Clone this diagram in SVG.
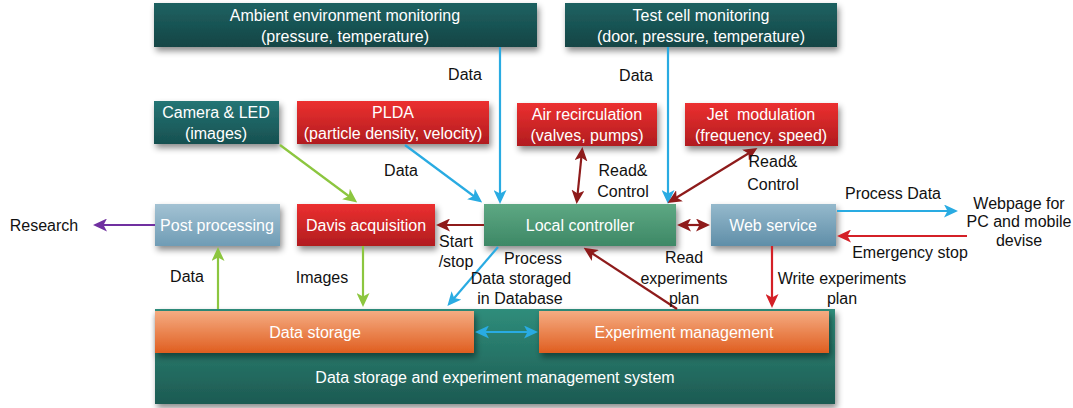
<svg xmlns="http://www.w3.org/2000/svg" width="1073" height="408" viewBox="0 0 1073 408">
<style>
text{font-family:"Liberation Sans",Arial,sans-serif;font-size:16px;text-anchor:middle;dominant-baseline:central}
.w{fill:#fff}
.k{fill:#111}
.box{filter:url(#sh)}
.c{fill:none;stroke-width:2.2}
.b{stroke:#29abe2}
.g{stroke:#8cc63f}
.dr{stroke:#8e1b1b}
.r{stroke:#d42027}
.p{stroke:#7030a0}
</style>
<defs>
<filter id="sh" x="-10%" y="-20%" width="125%" height="160%">
<feDropShadow dx="2" dy="4" stdDeviation="3" flood-color="#000" flood-opacity="0.45"/>
</filter>
<linearGradient id="gTeal" x1="0" y1="0" x2="0" y2="1"><stop offset="0" stop-color="#1f6262"/><stop offset="1" stop-color="#124545"/></linearGradient>
<linearGradient id="gCam" x1="0" y1="0" x2="0" y2="1"><stop offset="0" stop-color="#257575"/><stop offset="1" stop-color="#175050"/></linearGradient>
<linearGradient id="gRed" x1="0" y1="0" x2="0" y2="1"><stop offset="0" stop-color="#ec3030"/><stop offset="1" stop-color="#b11c1f"/></linearGradient>
<linearGradient id="gGreen" x1="0" y1="0" x2="0" y2="1"><stop offset="0" stop-color="#5ea883"/><stop offset="1" stop-color="#3d8866"/></linearGradient>
<linearGradient id="gSteel" x1="0" y1="0" x2="0" y2="1"><stop offset="0" stop-color="#95b9cc"/><stop offset="1" stop-color="#5f8ea8"/></linearGradient>
<linearGradient id="gPost" x1="0" y1="0" x2="0" y2="1"><stop offset="0" stop-color="#a3c2d3"/><stop offset="1" stop-color="#6f9cb5"/></linearGradient>
<linearGradient id="gOrange" x1="0" y1="0" x2="0" y2="1"><stop offset="0" stop-color="#f5ac82"/><stop offset="1" stop-color="#e05e20"/></linearGradient>
<linearGradient id="gSys" x1="0" y1="0" x2="0" y2="1"><stop offset="0" stop-color="#2f8d7b"/><stop offset="1" stop-color="#1d5a52"/></linearGradient>
<marker id="mb" viewBox="0 0 14 13" refX="10" refY="6.5" markerWidth="14" markerHeight="13" markerUnits="userSpaceOnUse" orient="auto-start-reverse"><path d="M0,0L14,6.5L0,13L3.5,6.5z" fill="#29abe2"/></marker>
<marker id="mg" viewBox="0 0 14 13" refX="10" refY="6.5" markerWidth="14" markerHeight="13" markerUnits="userSpaceOnUse" orient="auto-start-reverse"><path d="M0,0L14,6.5L0,13L3.5,6.5z" fill="#8cc63f"/></marker>
<marker id="mdr" viewBox="0 0 14 13" refX="10" refY="6.5" markerWidth="14" markerHeight="13" markerUnits="userSpaceOnUse" orient="auto-start-reverse"><path d="M0,0L14,6.5L0,13L3.5,6.5z" fill="#8e1b1b"/></marker>
<marker id="mr" viewBox="0 0 14 13" refX="10" refY="6.5" markerWidth="14" markerHeight="13" markerUnits="userSpaceOnUse" orient="auto-start-reverse"><path d="M0,0L14,6.5L0,13L3.5,6.5z" fill="#d42027"/></marker>
<marker id="mp" viewBox="0 0 14 13" refX="10" refY="6.5" markerWidth="14" markerHeight="13" markerUnits="userSpaceOnUse" orient="auto-start-reverse"><path d="M0,0L14,6.5L0,13L3.5,6.5z" fill="#7030a0"/></marker>
</defs>
<rect width="1073" height="408" fill="#fff"/>

<g id="system">
<rect class="box" x="155" y="309" width="680" height="95" fill="url(#gSys)"/>
<text class="w" x="495" y="377">Data storage and experiment management system</text>
</g>
<g id="ambient">
<rect class="box" x="154" y="3" width="383" height="44" fill="url(#gTeal)"/>
<text class="w" x="345" y="15">Ambient environment monitoring</text>
<text class="w" x="345" y="36">(pressure, temperature)</text>
</g>
<g id="testcell">
<rect class="box" x="565" y="3" width="272" height="44" fill="url(#gTeal)"/>
<text class="w" x="701" y="15">Test cell monitoring</text>
<text class="w" x="701" y="36">(door, pressure, temperature)</text>
</g>
<g id="camera">
<rect class="box" x="154" y="101" width="125" height="43" fill="url(#gCam)"/>
<text class="w" x="216" y="112">Camera &amp; LED</text>
<text class="w" x="216" y="133">(images)</text>
</g>
<g id="plda">
<rect class="box" x="297" y="101" width="192" height="43" fill="url(#gRed)"/>
<text class="w" x="393" y="112">PLDA</text>
<text class="w" x="393" y="133">(particle density, velocity)</text>
</g>
<g id="air">
<rect class="box" x="517" y="103" width="140" height="43" fill="url(#gRed)"/>
<text class="w" x="587" y="114">Air recirculation</text>
<text class="w" x="587" y="135">(valves, pumps)</text>
</g>
<g id="jet">
<rect class="box" x="685" y="103" width="153" height="43" fill="url(#gRed)"/>
<text class="w" x="761" y="114" xml:space="preserve">Jet  modulation</text>
<text class="w" x="761" y="135">(frequency, speed)</text>
</g>
<g id="post">
<rect class="box" x="155" y="204" width="125" height="42" fill="url(#gPost)"/>
<text class="w" x="217" y="225">Post processing</text>
</g>
<g id="davis">
<rect class="box" x="297" y="204" width="138" height="42" fill="url(#gRed)"/>
<text class="w" x="366" y="225">Davis acquisition</text>
</g>
<g id="local">
<rect class="box" x="484" y="204" width="192" height="42" fill="url(#gGreen)"/>
<text class="w" x="580" y="225">Local controller</text>
</g>
<g id="web">
<rect class="box" x="711" y="204" width="125" height="42" fill="url(#gSteel)"/>
<text class="w" x="773" y="225">Web service</text>
</g>
<g id="datastorage">
<rect class="box" x="155" y="311" width="319" height="42" fill="url(#gOrange)"/>
<text class="w" x="315" y="332">Data storage</text>
</g>
<g id="expmgmt">
<rect class="box" x="539" y="311" width="290" height="42" fill="url(#gOrange)"/>
<text class="w" x="684" y="332">Experiment management</text>
</g>
<g id="research"><text class="k" x="44" y="225">Research</text></g>
<g id="webpage">
<text class="k" x="1019" y="203">Webpage for</text>
<text class="k" x="1019" y="221">PC and mobile</text>
<text class="k" x="1019" y="240">devise</text>
</g>

<g id="connectors">
<line class="c b" x1="500" y1="47" x2="500" y2="200" marker-end="url(#mb)"/>
<line class="c b" x1="668" y1="47" x2="668" y2="200" marker-end="url(#mb)"/>
<line class="c b" x1="405" y1="145" x2="479" y2="200" marker-end="url(#mb)"/>
<line class="c g" x1="280" y1="145" x2="354" y2="200" marker-end="url(#mg)"/>
<line class="c dr" x1="484" y1="225" x2="440" y2="225" marker-end="url(#mdr)"/>
<line class="c dr" x1="681" y1="225" x2="706" y2="225" marker-start="url(#mdr)" marker-end="url(#mdr)"/>
<line class="c dr" x1="582" y1="151" x2="577" y2="200" marker-start="url(#mdr)" marker-end="url(#mdr)"/>
<line class="c dr" x1="754" y1="150" x2="671" y2="201" marker-start="url(#mdr)" marker-end="url(#mdr)"/>
<line class="c b" x1="837" y1="211" x2="954" y2="211" marker-end="url(#mb)"/>
<line class="c r" x1="967" y1="236" x2="841" y2="236" marker-end="url(#mr)"/>
<line class="c p" x1="155" y1="225" x2="97" y2="225" marker-end="url(#mp)"/>
<line class="c g" x1="218" y1="309" x2="218" y2="251" marker-end="url(#mg)"/>
<line class="c g" x1="363" y1="246" x2="363" y2="303" marker-end="url(#mg)"/>
<line class="c b" x1="498" y1="247" x2="450" y2="303" marker-end="url(#mb)"/>
<line class="c dr" x1="677" y1="309" x2="587" y2="250" marker-end="url(#mdr)"/>
<line class="c r" x1="772" y1="246" x2="772" y2="304" marker-end="url(#mr)"/>
<line class="c b" x1="479" y1="332" x2="534" y2="332" marker-start="url(#mb)" marker-end="url(#mb)"/>
</g>

<g id="labels">
<text class="k" x="465" y="74">Data</text>
<text class="k" x="636" y="75">Data</text>
<text class="k" x="401" y="170">Data</text>
<text class="k" x="623" y="170">Read&amp;</text>
<text class="k" x="623" y="191">Control</text>
<text class="k" x="773" y="161">Read&amp;</text>
<text class="k" x="773" y="184">Control</text>
<text class="k" x="893" y="193">Process Data</text>
<text class="k" x="910" y="252">Emergency stop</text>
<text class="k" x="456" y="241">Start</text>
<text class="k" x="456" y="261">/stop</text>
<text class="k" x="533" y="258">Process</text>
<text class="k" x="521" y="278">Data storaged</text>
<text class="k" x="520" y="298">in Database</text>
<text class="k" x="684" y="257">Read</text>
<text class="k" x="684" y="278">experiments</text>
<text class="k" x="684" y="298">plan</text>
<text class="k" x="842" y="278">Write experiments</text>
<text class="k" x="842" y="298">plan</text>
<text class="k" x="187" y="276">Data</text>
<text class="k" x="322" y="277">Images</text>
</g>
</svg>
